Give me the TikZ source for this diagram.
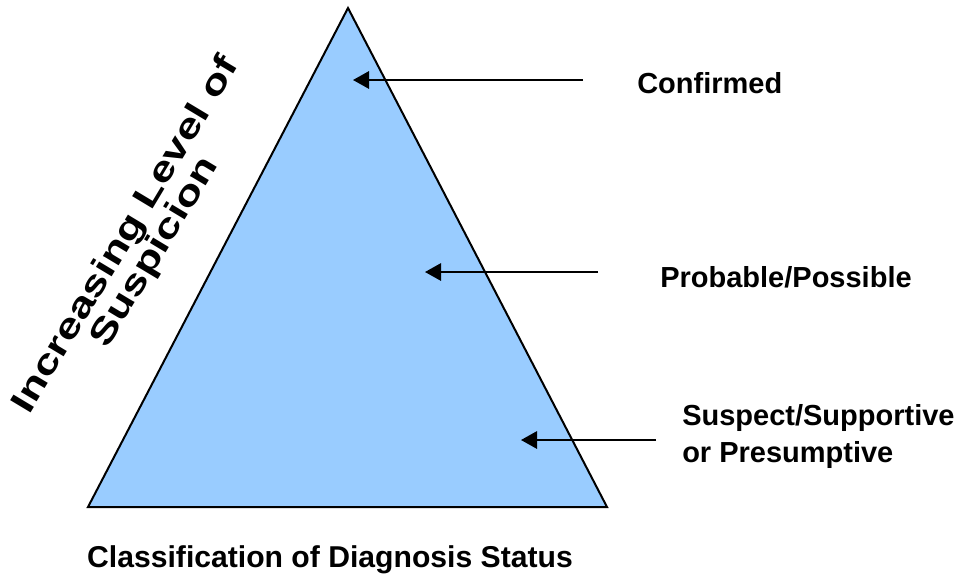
\documentclass[tikz,border=0pt]{standalone}
\usepackage{fontspec}
\setmainfont{Liberation Sans}
\usetikzlibrary{arrows.meta}
\definecolor{pyramidblue}{HTML}{99CCFF}

\tikzset{
    etichetta/.style={font=\fontsize{21.75pt}{27.75pt}\selectfont\bfseries, inner sep=0pt},
    freccia/.style={line width=1.5pt, -{Triangle[length=12pt,width=13pt]}}
}

\begin{document}
\begin{tikzpicture}[x=0.75pt, y=-0.75pt]
\useasboundingbox (0,0) rectangle (973,586);

% Vertici del triangolo
\coordinate (apice) at (348,8);
\coordinate (baseSx) at (88,507);
\coordinate (baseDx) at (607,507);
\draw[line width=1.5pt, fill=pyramidblue, line join=miter] (apice) -- (baseDx) -- (baseSx) -- cycle; % Triangolo

% Etichette a destra
\node[etichetta, anchor=base west] (confermato) at (637,93) {Confirmed};
\node[etichetta, anchor=base west] (probabile) at (660,287) {Probable/Possible};
\node[etichetta, anchor=base west, align=left] (sospetto) at (682,462) {Suspect/Supportive\\or Presumptive};

% Frecce verso il triangolo
\coordinate (codaA) at (583,80);  \coordinate (puntaA) at (353,80);
\coordinate (codaB) at (598,272); \coordinate (puntaB) at (425,272);
\coordinate (codaC) at (656,440); \coordinate (puntaC) at (521,440);
\draw[freccia] (codaA) -- (puntaA);
\draw[freccia] (codaB) -- (puntaB);
\draw[freccia] (codaC) -- (puntaC);

% Titolo in basso
\node[etichetta, anchor=base, font=\fontsize{22.6pt}{27pt}\selectfont\bfseries] (titolo) at (330,567) {Classification of Diagnosis Status};

% Testo ruotato a sinistra
\node[etichetta, align=center, font=\fontsize{26pt}{25pt}\selectfont\bfseries,
      rotate=59, xscale=1.3, transform shape] (livello) at (141,244) {Increasing Level of\\Suspicion};

\end{tikzpicture}
\end{document}
